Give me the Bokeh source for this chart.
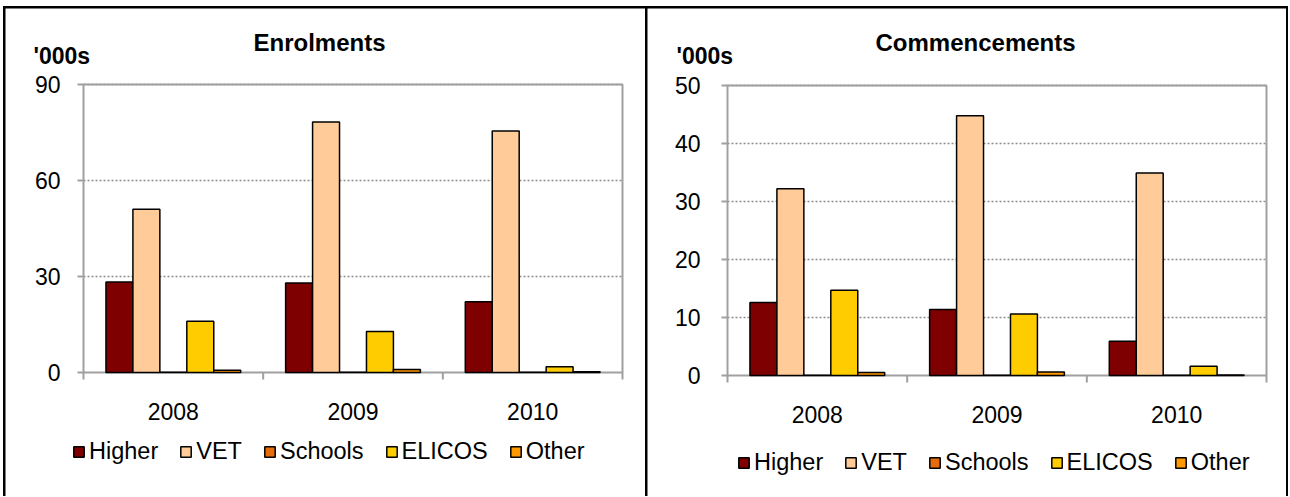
from bokeh.plotting import figure
from bokeh.models import (Range1d, Spacer, Legend, LegendItem, Label, ColumnDataSource)
from bokeh.core.properties import value
from bokeh.transform import dodge
from bokeh.layouts import row, column
from bokeh.embed import file_html
from bokeh.resources import INLINE

# ---------------- data ----------------
years = ["2008", "2009", "2010"]
series = ["Higher", "VET", "Schools", "ELICOS", "Other"]
colors = ["#7F0000", "#FFCC99", "#E46C0A", "#FFCC00", "#FF9900"]

enrol_higher = [28.3, 28.0, 22.1]
enrol_vet = [51.0, 78.3, 75.5]
enrol_schools = [0.1, 0.1, 0.1]
enrol_elicos = [16.0, 12.8, 1.8]
enrol_other = [0.7, 0.9, 0.2]

comm_higher = [12.6, 11.4, 5.9]
comm_vet = [32.2, 44.8, 34.9]
comm_schools = [0.05, 0.05, 0.05]
comm_elicos = [14.7, 10.6, 1.6]
comm_other = [0.5, 0.6, 0.1]

enrol_ticks = [0, 30, 60, 90]
comm_ticks = [0, 10, 20, 30, 40, 50]

FONT = "Liberation Sans"
GRAY = "#a0a0a0"
H = 488


def build(title, vals, yticks, W, fx0, fx1, fy0, fy1, label_gap, leg_loc, title_xy, units_xy):
    n = len(years)
    ymax = yticks[-1]
    kx = (fx1 - fx0) / n          # pixels per category
    ky = (fy1 - fy0) / ymax       # pixels per unit
    p = figure(width=W, height=H,
               x_range=Range1d(-fx0 / kx, (W - fx0) / kx),
               y_range=Range1d(-(H - fy1) / ky, ymax + fy0 / ky),
               x_axis_location=None, y_axis_location=None,
               min_border=0, min_border_left=0, min_border_right=0,
               min_border_top=0, min_border_bottom=0,
               output_backend="svg", toolbar_location=None)
    p.outline_line_color = None
    p.background_fill_color = "white"
    p.border_fill_color = "white"
    p.grid.visible = False

    centers = [i + 0.5 for i in range(n)]
    edges = list(range(n + 1))

    # dotted gridlines
    inner = [t for t in yticks if t != 0]
    p.segment(x0=[0] * len(inner), x1=[n] * len(inner), y0=inner, y1=inner,
              line_color="#8c8c8c", line_dash="2 2", line_width=1.5)
    # plot-area box / axis lines
    p.quad(left=0, right=n, bottom=0, top=ymax, fill_color=None,
           line_color=GRAY, line_width=2)
    # y ticks and labels
    p.segment(x0=[-6 / kx] * len(yticks), x1=[0] * len(yticks), y0=yticks, y1=yticks,
              line_color=GRAY, line_width=2)
    p.text(x=[-label_gap / kx] * len(yticks), y=yticks, text=[str(t) for t in yticks],
           text_font=value(FONT), text_font_size=value("23px"), text_color="black",
           text_align="right", text_baseline="middle")
    # category boundary ticks and labels
    p.segment(x0=edges, x1=edges, y0=[0] * len(edges), y1=[-7 / ky] * len(edges),
              line_color=GRAY, line_width=2)
    p.text(x=centers, y=[-38.5 / ky] * n, text=years,
           text_font=value(FONT), text_font_size=value("23px"), text_color="black",
           text_align="center", text_baseline="middle")

    data = dict(year=years, xc=centers)
    for s, v in zip(series, vals):
        data[s] = v
    src = ColumnDataSource(data)
    offsets = [-0.3, -0.15, 0.0, 0.15, 0.3]
    items = []
    for s, off, c in zip(series, offsets, colors):
        r = p.vbar(x=dodge("xc", off), top=s, width=0.15, source=src,
                   fill_color=c, line_color="black", line_width=1.5)
        items.append(LegendItem(label=s, renderers=[r]))

    leg = Legend(items=items, location=leg_loc, orientation="horizontal",
                 border_line_color=None, background_fill_alpha=0,
                 label_text_font=FONT, label_text_font_size="23.5px",
                 label_text_color="black", glyph_width=13, glyph_height=13,
                 label_standoff=4, spacing=21, padding=0, margin=0)
    p.add_layout(leg)

    p.add_layout(Label(x=title_xy[0], y=title_xy[1], x_units="screen", y_units="screen",
                       text=title, text_font=FONT, text_font_size="24px",
                       text_font_style="bold", text_color="black",
                       text_align="left", text_baseline="middle"))
    p.add_layout(Label(x=units_xy[0], y=units_xy[1], x_units="screen", y_units="screen",
                       text="'000s", text_font=FONT, text_font_size="23px",
                       text_font_style="bold", text_color="black",
                       text_align="left", text_baseline="middle"))
    return p


p1 = build("Enrolments",
           [enrol_higher, enrol_vet, enrol_schools, enrol_elicos, enrol_other],
           enrol_ticks, 640, 78, 617, 76, 364, 23, (67, 31), (248, 454.5), (28, 440.5))
p2 = build("Commencements",
           [comm_higher, comm_vet, comm_schools, comm_elicos, comm_other],
           comm_ticks, 639, 80, 619, 77, 367, 27, (90, 20), (228, 454.5), (29, 441))

inner = column(
    Spacer(width=1285, height=2),
    row(Spacer(width=2, height=H), p1, Spacer(width=2, height=H), p2, Spacer(width=2, height=H)),
    styles={"background-color": "black"})
layout = column(Spacer(width=1288, height=6), row(Spacer(width=3, height=H + 2), inner))
open("out.html", "w").write(file_html(layout, INLINE))
